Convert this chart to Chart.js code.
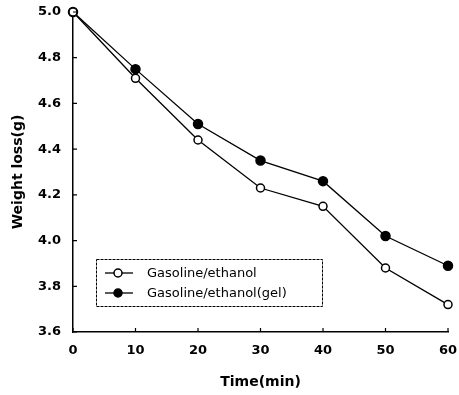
<!DOCTYPE html>
<html>
<head>
    <title>Weight loss</title>
    <style>
        body {
            margin: 0;
            padding: 0;
            background-color: #fff;
        }
        .chart-wrapper {
            width: 459px;
            height: 395px;
        }
    </style>
</head>
<body>
<div class="chart-wrapper">
    <canvas id="lossChart"></canvas>
</div>

<script src="https://cdn.jsdelivr.net/npm/chart.js@4.4.1/dist/chart.umd.min.js"></script>
<script>
    const timeMin = [0, 10, 20, 30, 40, 50, 60];
    const ethanolLoss = [5.0, 4.71, 4.44, 4.23, 4.15, 3.88, 3.72];
    const gelLoss = [5.0, 4.75, 4.51, 4.35, 4.26, 4.02, 3.89];
    const xTicks = [0, 10, 20, 30, 40, 50, 60];
    const yTicks = [3.6, 3.8, 4.0, 4.2, 4.4, 4.6, 4.8, 5.0];

    const FONT = '"DejaVu Sans", "Liberation Sans", Arial, sans-serif';

    // inward tick marks on both axes
    const innerTicks = {
        id: 'innerTicks',
        afterDraw(chart) {
            const { ctx, chartArea, scales } = chart;
            ctx.save();
            ctx.strokeStyle = '#000';
            ctx.lineWidth = 1.2;
            ctx.beginPath();
            yTicks.forEach(v => {
                const y = scales.y.getPixelForValue(v);
                ctx.moveTo(chartArea.left, y);
                ctx.lineTo(chartArea.left + 4, y);
            });
            xTicks.forEach(v => {
                const x = scales.x.getPixelForValue(v);
                ctx.moveTo(x, chartArea.bottom);
                ctx.lineTo(x, chartArea.bottom - 4);
            });
            ctx.stroke();
            ctx.restore();
        }
    };

    // legend box drawn inside the plot area
    const boxLegend = {
        id: 'boxLegend',
        afterDatasetsDraw(chart) {
            const { ctx, chartArea } = chart;
            const left = chartArea.left + 23;
            const top = chartArea.bottom - 73;
            const w = 226, h = 47;
            ctx.save();
            ctx.fillStyle = '#fff';
            ctx.fillRect(left, top, w, h);
            ctx.strokeStyle = '#000';
            ctx.lineWidth = 1;
            ctx.setLineDash([3, 1]);
            ctx.strokeRect(left + 0.5, top + 0.5, w, h);
            ctx.setLineDash([]);
            chart.data.datasets.forEach((ds, i) => {
                const y = top + 14 + i * 20;
                ctx.beginPath();
                ctx.lineWidth = 1.3;
                ctx.moveTo(left + 9, y);
                ctx.lineTo(left + 37, y);
                ctx.stroke();
                ctx.beginPath();
                ctx.arc(left + 22, y, 4, 0, Math.PI * 2);
                ctx.fillStyle = ds.pointBackgroundColor;
                ctx.fill();
                ctx.lineWidth = 1.5;
                ctx.stroke();
                ctx.fillStyle = '#000';
                ctx.font = '13px ' + FONT;
                ctx.textBaseline = 'middle';
                ctx.fillText(ds.label, left + 51, y + 1);
            });
            ctx.restore();
        }
    };

    new Chart(document.getElementById('lossChart'), {
        type: 'line',
        data: {
            datasets: [{
                label: 'Gasoline/ethanol',
                data: timeMin.map((t, i) => ({ x: t, y: ethanolLoss[i] })),
                borderColor: '#000',
                borderWidth: 1.3,
                pointBackgroundColor: '#fff',
                pointBorderColor: '#000',
                pointBorderWidth: 1.5,
                pointRadius: 4,
                tension: 0,
                clip: false
            }, {
                label: 'Gasoline/ethanol(gel)',
                data: timeMin.map((t, i) => ({ x: t, y: gelLoss[i] })),
                borderColor: '#000',
                borderWidth: 1.3,
                pointBackgroundColor: '#000',
                pointBorderColor: '#000',
                pointBorderWidth: 1.5,
                pointRadius: 4.5,
                tension: 0,
                clip: false
            }]
        },
        options: {
            responsive: true,
            maintainAspectRatio: false,
            animation: false,
            layout: {
                padding: { top: 12, right: 11, left: 6, bottom: 0 }
            },
            scales: {
                x: {
                    type: 'linear',
                    min: 0,
                    max: 60,
                    afterBuildTicks: scale => {
                        scale.ticks = xTicks.map(v => ({ value: v }));
                    },
                    afterFit: scale => {
                        scale.height = 63;
                        scale.paddingLeft = 0;
                        scale.paddingRight = 0;
                    },
                    grid: { display: false, drawTicks: false },
                    border: { display: true, color: '#000', width: 1.5 },
                    ticks: {
                        color: '#000',
                        padding: 11,
                        font: { family: FONT, size: 13, weight: 'bold' }
                    },
                    title: {
                        display: true,
                        text: 'Time(min)',
                        color: '#000',
                        padding: { top: 18, bottom: 4 },
                        font: { family: FONT, size: 14, weight: 'bold' }
                    }
                },
                y: {
                    min: 3.6,
                    max: 5.0,
                    afterBuildTicks: scale => {
                        scale.ticks = yTicks.map(v => ({ value: v }));
                    },
                    afterFit: scale => {
                        scale.width = 67;
                        scale.paddingTop = 0;
                        scale.paddingBottom = 0;
                    },
                    grid: { display: false, drawTicks: false },
                    border: { display: true, color: '#000', width: 1.5 },
                    ticks: {
                        color: '#000',
                        padding: 12,
                        callback: v => v.toFixed(1),
                        font: { family: FONT, size: 13, weight: 'bold' }
                    },
                    title: {
                        display: true,
                        text: 'Weight loss(g)',
                        color: '#000',
                        padding: { bottom: 10 },
                        font: { family: FONT, size: 14, weight: 'bold' }
                    }
                }
            },
            plugins: {
                legend: { display: false },
                tooltip: { enabled: false }
            }
        },
        plugins: [innerTicks, boxLegend]
    });
</script>
</body>
</html>
